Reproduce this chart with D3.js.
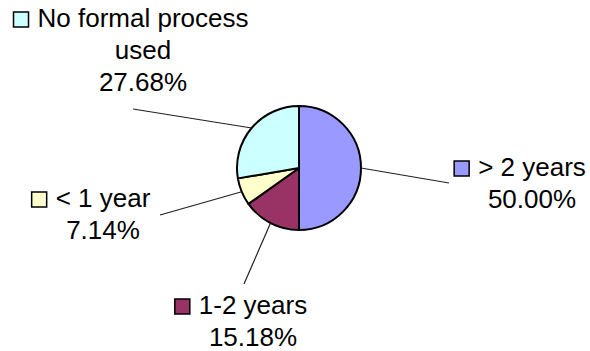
<!DOCTYPE html>
<html>
<head>
<meta charset="utf-8">
<script src="https://cdn.jsdelivr.net/npm/d3@7"></script>
<style>
  body { margin: 0; background: #fff; }
  svg { display: block; font-family: "Liberation Sans", Arial, sans-serif; }
</style>
</head>
<body>
<svg id="chart" width="590" height="351"></svg>
<script>
// survey answers (count of respondents), drawn clockwise from 12 o'clock
var categories = ["> 2 years", "1-2 years", "< 1 year", "No formal process used"];
var counts = [56, 17, 8, 31];
var colors = ["#9999FF", "#993366", "#FFFFCC", "#CCFFFF"];

// where each label sits (text centre x, first baseline y) and where its leader ends
var labelLayout = {
    "> 2 years": { x: 532, y: 176, lx: 449, ly: 183 },
    "1-2 years": { x: 253, y: 314, lx: 244, ly: 284 },
    "< 1 year": { x: 103, y: 207, lx: 160, ly: 215 },
    "No formal process used": { x: 143, y: 27, lx: 133, ly: 109 }
};

var svg = d3.select("#chart");
var cx = 299, cy = 168, r = 62;
var lineH = 32, fontSize = 26;

var total = d3.sum(counts);
var data = categories.map(function (c, i) {
    return { name: c, value: counts[i], color: colors[i] };
});

var pie = d3.pie().sort(null).value(function (d) { return d.value; });
var arc = d3.arc().innerRadius(0).outerRadius(r);
var arcs = pie(data);

var g = svg.append("g").attr("transform", "translate(" + cx + "," + cy + ")");

// leader lines first so the pie outline sits on top
svg.selectAll("line.leader")
    .data(arcs)
    .enter().append("line")
    .attr("class", "leader")
    .attr("x1", function (d) { var a = (d.startAngle + d.endAngle) / 2; return cx + r * Math.sin(a); })
    .attr("y1", function (d) { var a = (d.startAngle + d.endAngle) / 2; return cy - r * Math.cos(a); })
    .attr("x2", function (d) { return labelLayout[d.data.name].lx; })
    .attr("y2", function (d) { return labelLayout[d.data.name].ly; })
    .attr("stroke", "#222")
    .attr("stroke-width", 1.2);

g.selectAll("path")
    .data(arcs)
    .enter().append("path")
    .attr("d", arc)
    .attr("fill", function (d) { return d.data.color; })
    .attr("stroke", "#000")
    .attr("stroke-width", 2)
    .attr("stroke-linejoin", "round");

var fmt = d3.format(".2%");

// wrap long names the way the spreadsheet did
function wrapLines(txt, maxW) {
    var words = txt.split(" "), lines = [], cur = "";
    var probe = svg.append("text").attr("font-size", fontSize);
    words.forEach(function (w) {
        var test = cur ? cur + " " + w : w;
        probe.text(test);
        if (cur && probe.node().getComputedTextLength() > maxW) {
            lines.push(cur);
            cur = w;
        } else {
            cur = test;
        }
    });
    lines.push(cur);
    probe.remove();
    return lines;
}

var labels = svg.selectAll("g.label")
    .data(arcs)
    .enter().append("g")
    .attr("class", "label");

labels.each(function (d) {
    var lay = labelLayout[d.data.name];
    var sel = d3.select(this);
    var lines = wrapLines(d.data.name, 220);
    lines.push(fmt(d.data.value / total));

    var first = null;
    lines.forEach(function (ln, i) {
        var t = sel.append("text")
            .attr("x", lay.x)
            .attr("y", lay.y + i * lineH)
            .attr("text-anchor", "middle")
            .attr("font-size", fontSize)
            .attr("fill", "#000")
            .text(ln);
        if (i === 0) first = t;
    });

    // legend key to the left of the first line
    var w = first.node().getComputedTextLength();
    var keyX = lay.x - w / 2 - 24;
    sel.append("rect")
        .attr("x", keyX)
        .attr("y", lay.y - 15)
        .attr("width", 15)
        .attr("height", 15)
        .attr("fill", d.data.color)
        .attr("stroke", "#000")
        .attr("stroke-width", 1.5);
});
</script>
</body>
</html>
